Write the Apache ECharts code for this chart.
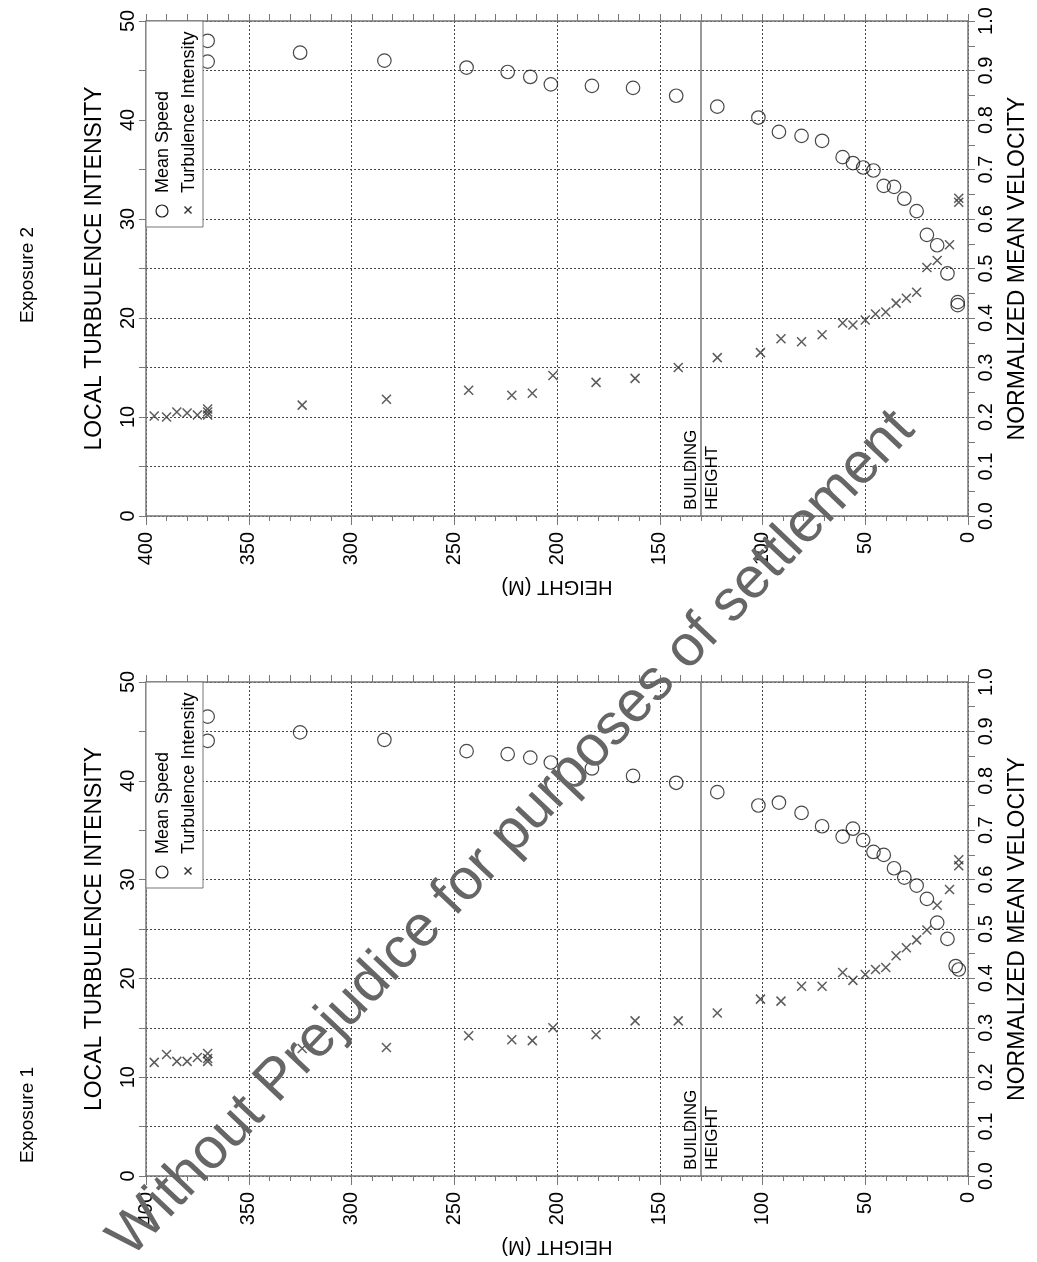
<!DOCTYPE html>
<html><head><meta charset="utf-8">
<script src="https://cdn.jsdelivr.net/npm/echarts@6/dist/echarts.min.js"></script>
<style>html,body{margin:0;padding:0;background:#fff}#c{width:1037px;height:1262px}</style>
</head><body><div id="c"></div>
<script>
// ---- data ----
const buildingHeight = 130;

// Exposure 2 (top panel)
const exp2SpeedHeight = [370, 370, 325, 284, 244, 224, 213, 203, 183, 163, 142, 122, 102, 92, 81, 71, 61, 56, 51, 46, 41, 36, 31, 25, 20, 15, 10, 5, 5];
const exp2Speed       = [0.960, 0.918, 0.936, 0.920, 0.906, 0.897, 0.887, 0.872, 0.869, 0.865, 0.849, 0.827, 0.805, 0.776, 0.768, 0.758, 0.725, 0.713, 0.704, 0.698, 0.667, 0.665, 0.641, 0.616, 0.568, 0.547, 0.490, 0.432, 0.426];
const exp2TurbHeight  = [396, 390, 385, 380, 375, 370, 370, 370, 324, 283, 243, 222, 212, 202, 181, 162, 141, 122, 101, 91, 81, 71, 61, 56, 50, 45, 40, 35, 30, 25, 20, 15, 9, 4.5, 4.5];
const exp2Turb        = [10.1, 10.0, 10.5, 10.4, 10.2, 10.8, 10.5, 10.2, 11.2, 11.8, 12.7, 12.2, 12.4, 14.2, 13.5, 13.9, 15.0, 16.0, 16.5, 17.9, 17.6, 18.3, 19.5, 19.3, 19.8, 20.4, 20.6, 21.5, 22.0, 22.6, 25.1, 25.8, 27.4, 32.1, 31.7];

// Exposure 1 (bottom panel)
const exp1SpeedHeight = [370, 370, 325, 284, 244, 224, 213, 203, 183, 163, 142, 122, 102, 92, 81, 71, 61, 56, 51, 46, 41, 36, 31, 25, 20, 15, 10, 6, 4.5];
const exp1Speed       = [0.930, 0.881, 0.898, 0.883, 0.860, 0.854, 0.847, 0.837, 0.825, 0.810, 0.796, 0.777, 0.750, 0.756, 0.735, 0.708, 0.687, 0.703, 0.680, 0.656, 0.650, 0.623, 0.604, 0.588, 0.561, 0.513, 0.480, 0.425, 0.418];
const exp1TurbHeight  = [396, 390, 385, 380, 375, 370, 370, 370, 324, 283, 243, 222, 212, 202, 181, 162, 141, 122, 101, 91, 81, 71, 61, 56, 50, 45, 40, 35, 30, 25, 20, 15, 9, 4.5, 4.5];
const exp1Turb        = [11.5, 12.3, 11.6, 11.6, 12.0, 12.4, 11.9, 11.6, 12.9, 13.0, 14.2, 13.8, 13.7, 15.0, 14.3, 15.7, 15.7, 16.5, 17.9, 17.7, 19.2, 19.2, 20.6, 19.8, 20.4, 20.9, 21.1, 22.3, 23.1, 23.9, 24.9, 27.4, 29.0, 32.0, 31.4];

const panelTitles = ['Exposure 2', 'Exposure 1'];
const seriesNames = ['Mean Speed', 'Turbulence Intensity'];

// ---- chart ----
const FONT = '"Liberation Sans", Arial, Helvetica, sans-serif';
const AX = '#777';
const grids = [
  {left: 146, right: 65, top: 21, height: 495},
  {left: 146, right: 65, top: 682, height: 494}
];
const zip = (a, b) => a.map((v, i) => [v, b[i]]);
const txt = {fontSize: 20, color: '#000', fontFamily: FONT};
const nameTxt = {fontSize: 23, color: '#000', fontFamily: FONT};

function xAxes(g) {
  return [{
    gridIndex: g, type: 'value', min: 0, max: 400, interval: 50, inverse: true, position: 'bottom',
    axisLine: {show: true, onZero: false, lineStyle: {color: AX, width: 1.5}},
    axisTick: {show: true, length: 9, lineStyle: {color: AX, width: 1}},
    minorTick: {show: true, splitNumber: 5, length: 5, lineStyle: {color: AX, width: 1}},
    axisLabel: Object.assign({rotate: 90, margin: 16}, txt),
    splitLine: {show: true, lineStyle: {color: '#444', width: 1, type: [2, 2]}},
    name: 'HEIGHT (M)', nameLocation: 'middle', nameGap: 61, nameRotate: 180,
    nameTextStyle: {fontSize: 20, color: '#000', fontFamily: FONT}
  }, {
    gridIndex: g, type: 'value', min: 0, max: 400, interval: 10, inverse: true, position: 'top',
    axisLine: {show: true, onZero: false, lineStyle: {color: AX, width: 1.5}},
    axisTick: {show: true, length: 7, lineStyle: {color: AX, width: 1}},
    axisLabel: {show: false}, splitLine: {show: false}
  }];
}
function yAxes(g) {
  return [{
    gridIndex: g, type: 'value', min: 0, max: 50, interval: 10, position: 'left',
    axisLine: {show: true, onZero: false, lineStyle: {color: AX, width: 1.5}},
    axisTick: {show: true, length: 7, lineStyle: {color: AX, width: 1}},
    minorTick: {show: true, splitNumber: 2, length: 7, lineStyle: {color: AX, width: 1}},
    axisLabel: Object.assign({rotate: 90, margin: 8}, txt),
    splitLine: {show: false},
    name: 'LOCAL TURBULENCE INTENSITY', nameLocation: 'middle', nameGap: 40, nameRotate: 90,
    nameTextStyle: nameTxt
  }, {
    gridIndex: g, type: 'value', min: 0, max: 1, interval: 0.1, position: 'right',
    axisLine: {show: true, onZero: false, lineStyle: {color: AX, width: 1.5}},
    axisTick: {show: true, length: 7, lineStyle: {color: AX, width: 1}},
    minorTick: {show: true, splitNumber: 2, length: 7, lineStyle: {color: AX, width: 1}},
    axisLabel: Object.assign({rotate: 90, margin: 8, formatter: v => v.toFixed(1)}, txt),
    splitLine: {show: true, lineStyle: {color: '#444', width: 1, type: [2, 2]}},
    name: 'NORMALIZED MEAN VELOCITY', nameLocation: 'middle', nameGap: 38, nameRotate: 90,
    nameTextStyle: nameTxt
  }];
}
const speedStyle = {symbol: 'circle', symbolSize: 13.5,
  itemStyle: {color: 'rgba(0,0,0,0)', borderColor: '#1a1a1a', borderWidth: 1.2}};
const turbStyle = {symbol: 'path://M0,0L10,10M10,0L0,10', symbolSize: 9,
  itemStyle: {color: 'rgba(0,0,0,0)', borderColor: '#333', borderWidth: 1.5}};
const bLine = {silent: true, symbol: ['none', 'none'], label: {show: false},
  lineStyle: {color: AX, width: 1.5, type: 'solid'}, data: [{xAxis: buildingHeight}]};

function panelSeries(g, sh, s, th, t) {
  return [
    Object.assign({type: 'scatter', name: seriesNames[0], xAxisIndex: 2 * g, yAxisIndex: 2 * g + 1,
      data: zip(sh, s), z: 3}, speedStyle),
    Object.assign({type: 'scatter', name: seriesNames[1], xAxisIndex: 2 * g, yAxisIndex: 2 * g,
      data: zip(th, t), z: 3, markLine: bLine}, turbStyle)
  ];
}

const chart = echarts.init(document.getElementById('c'), null, {renderer: 'canvas'});
chart.setOption({
  animation: false,
  backgroundColor: '#fff',
  grid: grids,
  xAxis: xAxes(0).concat(xAxes(1)),
  yAxis: yAxes(0).concat(yAxes(1)),
  series: panelSeries(0, exp2SpeedHeight, exp2Speed, exp2TurbHeight, exp2Turb)
    .concat(panelSeries(1, exp1SpeedHeight, exp1Speed, exp1TurbHeight, exp1Turb))
});

// ---- overlays: legends, titles, building label, watermark ----
const gfx = [];
const titleY = [275, 1115];
grids.forEach((gr, g) => {
  const T = gr.top, L = gr.left;
  gfx.push({type: 'rect', z: 50, shape: {x: L, y: T, width: 57, height: 206},
    style: {fill: '#fff', stroke: AX, lineWidth: 1}});
  gfx.push({type: 'circle', z: 51, shape: {cx: L + 16, cy: T + 190, r: 6},
    style: {fill: 'none', stroke: '#1a1a1a', lineWidth: 1.2}});
  gfx.push({type: 'polyline', z: 51, shape: {points: [[L + 38.5, T + 185.5], [L + 45.5, T + 192.5]]},
    style: {stroke: '#333', lineWidth: 1.4}});
  gfx.push({type: 'polyline', z: 51, shape: {points: [[L + 45.5, T + 185.5], [L + 38.5, T + 192.5]]},
    style: {stroke: '#333', lineWidth: 1.4}});
  gfx.push({type: 'text', z: 51, x: L + 17, y: T + 172, rotation: Math.PI / 2,
    style: {text: seriesNames[0], font: '18px ' + FONT, fill: '#000', align: 'left', verticalAlign: 'middle', textAlign: 'left', textVerticalAlign: 'middle'}});
  gfx.push({type: 'text', z: 51, x: L + 43, y: T + 172, rotation: Math.PI / 2,
    style: {text: seriesNames[1], font: '18px ' + FONT, fill: '#000', align: 'left', verticalAlign: 'middle', textAlign: 'left', textVerticalAlign: 'middle'}});
  gfx.push({type: 'text', z: 51, x: 28, y: titleY[g], rotation: Math.PI / 2,
    style: {text: panelTitles[g], font: '19px ' + FONT, fill: '#000', align: 'center', verticalAlign: 'middle', textAlign: 'center', textVerticalAlign: 'middle'}});
  const bx = chart.convertToPixel({xAxisIndex: 2 * g}, buildingHeight);
  gfx.push({type: 'text', z: 51, x: bx + 1, y: T + gr.height - 6, rotation: Math.PI / 2,
    style: {text: 'BUILDING\nHEIGHT', font: '17px ' + FONT, lineHeight: 21, fill: '#000', align: 'left', verticalAlign: 'middle', textAlign: 'left', textVerticalAlign: 'middle'}});
});
gfx.push({type: 'text', z: 200, x: 512, y: 834, rotation: 46.5 * Math.PI / 180,
  style: {text: 'Without Prejudice for purposes of settlement', font: '58px ' + FONT, fill: '#666',
    align: 'center', verticalAlign: 'middle', textAlign: 'center', textVerticalAlign: 'middle'}});
chart.setOption({graphic: {elements: gfx}});
</script></body></html>
